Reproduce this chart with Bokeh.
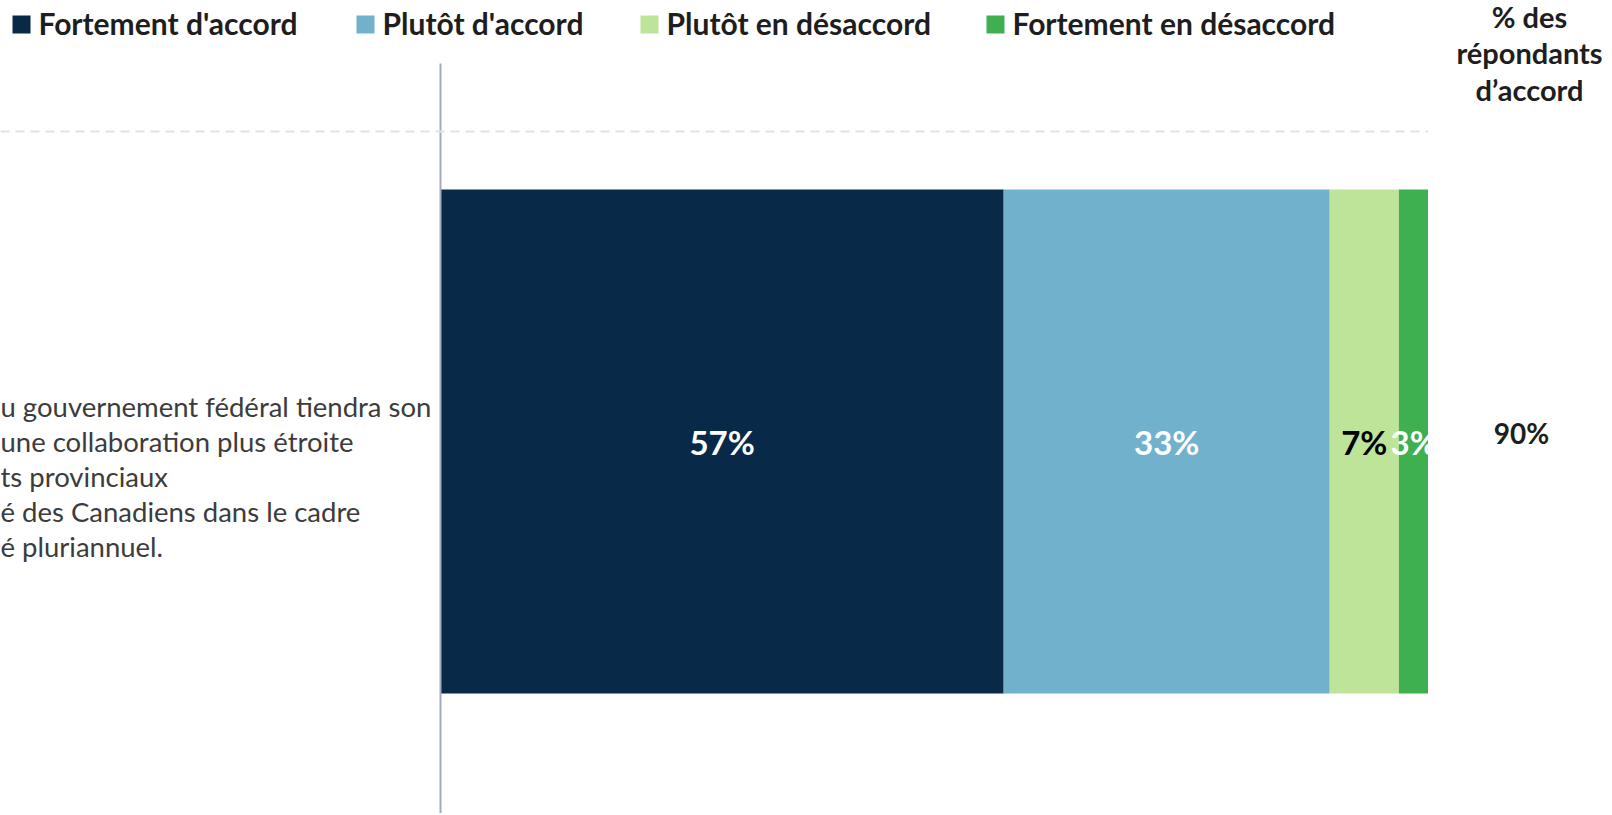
import numpy as np
from bokeh.plotting import figure
from bokeh.layouts import row
from bokeh.models import Range1d, Span, ColumnDataSource
from bokeh.embed import file_html
from bokeh.resources import INLINE
from bokeh.core.properties import value

# ---------------- data ----------------
categories = ["Fortement d'accord", "Plutôt d'accord", "Plutôt en désaccord", "Fortement en désaccord"]
values = [57, 33, 7, 3]
statement_lines = [
    "u gouvernement fédéral tiendra son",
    "une collaboration plus étroite",
    "ts provinciaux",
    "é des Canadiens dans le cadre",
    "é pluriannuel.",
]
header_lines = ["% des", "répondants", "d’accord"]
agree_total = values[0] + values[1]

# ---------------- style ----------------
colors = ["#082a48", "#72b1cb", "#bee49a", "#3eb050"]
label_colors = ["#ffffff", "#ffffff", "#000000", "#ffffff"]
FONT = "Lato"
TEXT_DARK = "#1e1e1e"

# ---------------- layout (page pixels) ----------------
TOTAL_W, H = 1610, 813
ZERO_PX = 440      # where 0 % sits
FULL_PX = 1428     # where 100 % sits (right edge of plotting area)
CENTER_PY = 441    # vertical centre of the bar
PX_PER_UNIT_Y = 620.3

px_per_pct = (FULL_PX - ZERO_PX) / 100.0
x_lo = (0 - ZERO_PX) / px_per_pct
y_hi = (CENTER_PY - 0) / PX_PER_UNIT_Y
y_lo = (CENTER_PY - H) / PX_PER_UNIT_Y


def X(px):
    return (px - ZERO_PX) / px_per_pct


def Y(py):
    return (CENTER_PY - py) / PX_PER_UNIT_Y


def base_fig(width, xr):
    f = figure(width=width, height=H, x_range=xr, y_range=yr,
               x_axis_type=None, y_axis_type=None,
               output_backend="svg", toolbar_location=None,
               min_border_left=0, min_border_right=0,
               min_border_top=0, min_border_bottom=0)
    f.outline_line_color = None
    f.background_fill_color = "#ffffff"
    f.border_fill_color = "#ffffff"
    return f


yr = Range1d(y_lo, y_hi)
p = base_fig(FULL_PX, Range1d(x_lo, 100))

# dashed separator
p.add_layout(Span(location=Y(131), dimension="width", line_color="#e2e2e2",
                  line_width=2, line_dash="9 6"))

# stacked bar
vals = np.array(values, dtype=float)
rights = np.cumsum(vals)
lefts = rights - vals
src = ColumnDataSource(dict(
    y=[0.0] * len(values), left=lefts, right=rights, color=colors,
    mid=(lefts + rights) / 2, label=[f"{v}%" for v in values], tcolor=label_colors,
))
p.hbar(y="y", left="left", right="right", height=504 / PX_PER_UNIT_Y,
       fill_color="color", line_color=None, source=src)

# axis line
p.segment(x0=[0], y0=[y_lo], x1=[0], y1=[Y(63)], line_color="#a2aac2", line_width=2)

# segment labels (clipped to the plotting area like the original)
p.text(x="mid", y="y", text="label", text_color="tcolor", text_align="center",
       text_baseline="middle", text_font=value(FONT), text_font_size="33px",
       text_font_style="bold", source=src)

# category text
p.text(x=[x_lo], y=[Y(476)], text=["\n".join(statement_lines)], text_align="left",
       text_baseline="middle", text_font=value(FONT), text_font_size="27.5px",
       text_line_height=1.06, text_color="#3c3c3c")

# legend (manual)
leg_px = [21, 365, 649, 995]
leg_src = ColumnDataSource(dict(
    x=[X(v) for v in leg_px], tx=[X(v + 17) for v in leg_px],
    y=[Y(24)] * 4, ty=[Y(22)] * 4, color=colors, name=categories,
))
p.rect(x="x", y="y", width=18, height=18, width_units="screen", height_units="screen",
       fill_color="color", line_color=None, source=leg_src)
p.text(x="tx", y="ty", text="name", text_align="left", text_baseline="middle",
       text_font=value(FONT), text_font_size="30px", text_font_style="bold",
       text_color=TEXT_DARK, source=leg_src)

# right-hand column: header and total
p2 = base_fig(TOTAL_W - FULL_PX, Range1d(X(FULL_PX), X(TOTAL_W)))
header_py = [16, 52, 89]
p2.text(x=[X(1529)] * len(header_lines), y=[Y(v) for v in header_py], text=header_lines,
        text_align="center", text_baseline="middle", text_font=value(FONT),
        text_font_size="29px", text_font_style="bold", text_color=TEXT_DARK)
p2.text(x=[X(1521)], y=[Y(432)], text=[f"{agree_total}%"], text_align="center",
        text_baseline="middle", text_font=value(FONT), text_font_size="28px",
        text_font_style="bold", text_color=TEXT_DARK)

layout = row(p, p2, spacing=0)
open("out.html", "w").write(file_html(layout, INLINE))
